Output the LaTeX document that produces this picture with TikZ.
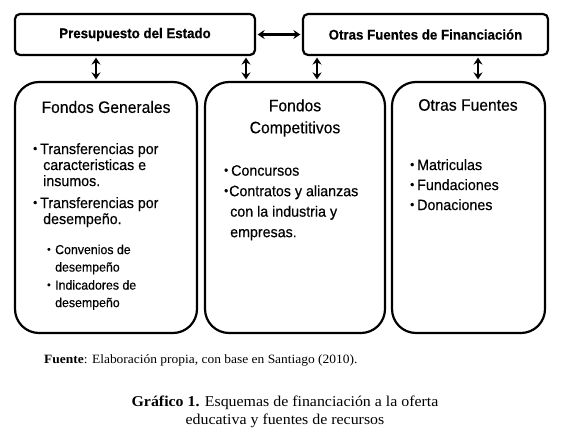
\documentclass[tikz,border=0pt]{standalone}
\usepackage{fontspec}
\setmainfont{Liberation Serif}
\newfontfamily\boxfont[FakeStretch=0.95,FakeBold=0.4]{Liberation Sans}
\newfontfamily\capfont[FakeStretch=1.06]{Liberation Serif}
\usetikzlibrary{arrows.meta,positioning}

\newcommand{\itm}[2][7pt]{\makebox[#1][l]{\raisebox{0.1em}{\scalebox{0.8}{\textbullet}}}#2}
\newcommand{\ind}[2][10pt]{\hspace*{#1}#2}

\begin{document}
\begin{tikzpicture}[x=1pt,y=-1pt,>={Stealth[length=7pt,width=9pt]},
    topbox/.style={draw,line width=2.2pt,rounded corners=5pt,minimum height=41pt,
      font=\boxfont\fontsize{14}{16}\selectfont\bfseries},
    bigbox/.style={draw,line width=2.2pt,rounded corners=24pt,minimum height=251pt},
    head/.style={font=\boxfont\fontsize{16.5}{22}\selectfont,align=center},
    list/.style={font=\boxfont\fontsize{15}{#1}\selectfont,align=left,inner sep=0pt,anchor=north west},
    list/.default=16,
    sublist/.style={font=\boxfont\fontsize{13}{17.5}\selectfont,align=left,inner sep=0pt,anchor=north west},
    link/.style={<->,line width=2.4pt,shorten >=1.5pt,shorten <=1.5pt}]

  \useasboundingbox (0,0) rectangle (569,443);

  % top row
  \node[topbox,minimum width=240pt] (presu) at (135,34.5) {Presupuesto del Estado};
  \node[topbox,minimum width=245pt] (otrasfin) at (425.5,34.5) {Otras Fuentes de Financiación};

  % funding boxes
  \node[bigbox,minimum width=182pt] (fondosgen) at (106,207.5) {};
  \node[bigbox,minimum width=180pt] (fondoscomp) at (295,207.5) {};
  \node[bigbox,minimum width=153pt] (otrasfte) at (468.5,207.5) {};

  \node[head] (fgtit) at (106,107) {Fondos Generales};
  \node[head] (fctit) at (295,118) {Fondos\\Competitivos};
  \node[head] (oftit) at (468,105) {Otras Fuentes};

  \node[list] (fglist) at (33,143) {\itm{Transferencias por}\\\ind{caracteristicas e}\\\ind{insumos.}\\[6pt]
    \itm{Transferencias por}\\\ind{desempeño.}};
  \node[sublist] (fgsub) at (47,244.5) {\itm[8pt]{Convenios de}\\\ind[8pt]{desempeño}\\[0.5pt]
    \itm[8pt]{Indicadores de}\\\ind[8pt]{desempeño}};
  \node[list=20.5] (fclist) at (224,165) {\itm{Concursos}\\\itm[5pt]{Contratos y alianzas}\\
    \ind[6pt]{con la industria y}\\\ind[6pt]{empresas.}};
  \node[list=20] (oflist) at (410,159) {\itm{Matriculas}\\\itm{Fundaciones}\\\itm{Donaciones}};

  % arrows
  \coordinate (a1) at (96,0);
  \coordinate (a2) at (246,0);
  \coordinate (a3) at (317,0);
  \coordinate (a4) at (478,0);
  \path[link]
    (presu.east) edge (otrasfin.west)
    (presu.south -| a1) edge (fondosgen.north -| a1)
    (presu.south -| a2) edge (fondoscomp.north -| a2)
    (otrasfin.south -| a3) edge (fondoscomp.north -| a3)
    (otrasfin.south -| a4) edge (otrasfte.north -| a4)
    ;

  % caption
  \node[anchor=base west,inner sep=0pt,font=\capfont\fontsize{12.7}{15}\selectfont] (fuente) at (44,363)
    {\textbf{Fuente}: Elaboración propia, con base en Santiago (2010).};
  \node[align=center,font=\capfont\fontsize{15}{18}\selectfont] (grafico) at (285,412)
    {\textbf{Gráfico 1.} Esquemas de financiación a la oferta\\educativa y fuentes de recursos};
\end{tikzpicture}
\end{document}
